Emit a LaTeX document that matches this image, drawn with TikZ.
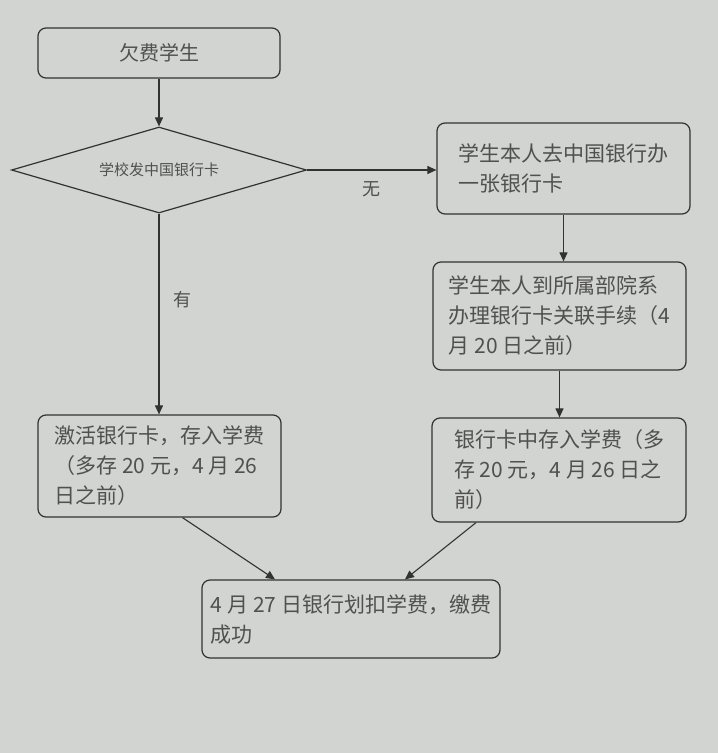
\documentclass[tikz,border=0pt]{standalone}
\usepackage{fontspec}
\newfontfamily\cjk{Noto Sans CJK SC}
\usetikzlibrary{shapes.geometric,arrows.meta}
\definecolor{paper}{RGB}{210,212,209}
\definecolor{ink}{RGB}{50,50,50}
\definecolor{print}{RGB}{80,80,80}

\begin{document}
\begin{tikzpicture}[x=1pt,y=-1pt]
\tikzstyle{every node}+=[inner sep=0pt]
\tikzstyle{stepbox}=[draw=ink, line width=1.2pt, rounded corners=8pt, fill=paper, text=print, align=left, font=\cjk\fontsize{21}{30}\selectfont]
\tikzstyle{flow}=[draw=ink, line width=1.1pt, -{Triangle[length=9pt,width=8pt]}]
\tikzstyle{flowlabel}=[text=print, font=\cjk\fontsize{18}{20}\selectfont]
\fill [paper] (0,0) rectangle (718,753);
\useasboundingbox (0,0) rectangle (718,753);
\node [stepbox, minimum width=242pt, minimum height=50pt, font=\cjk\fontsize{20}{24}\selectfont] (owe) at (159,53) {欠费学生};
\node [draw=ink, line width=1.2pt, shape=diamond, aspect=3.4, minimum width=295pt, minimum height=86pt, fill=paper, text=print, font=\cjk\fontsize{15}{18}\selectfont] (card) at (159,170) {学校发中国银行卡};
\node [stepbox, minimum width=253pt, minimum height=91pt] (open) at (563.5,168.5) {学生本人去中国银行办\\一张银行卡};
\node [stepbox, minimum width=253pt, minimum height=108pt] (link) at (559.5,316) {学生本人到所属部院系\\办理银行卡关联手续（4\\月 20 日之前）};
\node [stepbox, minimum width=243pt, minimum height=102pt] (activate) at (159.5,466) {激活银行卡，存入学费\\（多存 20 元，4 月 26\\日之前）};
\node [stepbox, minimum width=254pt, minimum height=104pt] (deposit) at (559,470) {银行卡中存入学费（多\\存 20 元，4 月 26 日之\\前）};
\node [stepbox, minimum width=298pt, minimum height=78pt] (paid) at (351,619) {4 月 27 日银行划扣学费，缴费\\成功};
% connectors
\draw [flow] (owe) -- (card);
\draw [flow] (card.east) -- (card.east -| open.west) node [flowlabel, midway, below=11pt] {无};
\draw [flow] (card.south) -- (card.south |- activate.north) node [flowlabel, pos=0.43, right=14pt] {有};
\draw [flow] (open.south) -- (open.south |- link.north);
\draw [flow] (link.south) -- (link.south |- deposit.north);
\draw [flow] ([xshift=23pt]activate.south) -- ([xshift=-76pt]paid.north);
\draw [flow] ([xshift=-83pt]deposit.south) -- ([xshift=54pt]paid.north);
\end{tikzpicture}
\end{document}
